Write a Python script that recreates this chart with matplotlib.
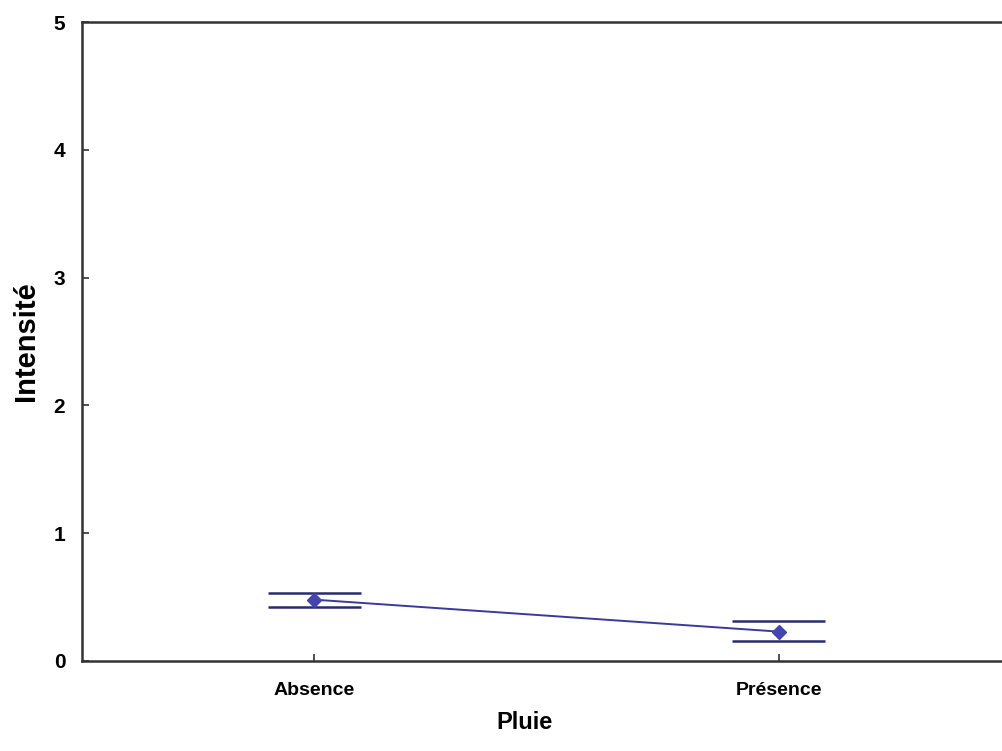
import matplotlib
matplotlib.use("Agg")
import matplotlib.pyplot as plt
import numpy as np

# data
categories = ["Absence", "Présence"]
means = [0.48, 0.23]
upper = [0.53, 0.31]
lower = [0.42, 0.155]

plt.rcParams['font.family'] = ['Liberation Sans', 'DejaVu Sans']

fig = plt.figure(figsize=(10.02, 7.51), dpi=100)
ax = fig.add_axes([82 / 1002, 90 / 751, 929 / 1002, 639 / 751])

x = np.arange(len(categories))
col = '#3a3a9c'

ax.plot(x, means, color=col, lw=1.4, zorder=2)
ax.plot(x, means, 'D', color='#4444b0', ms=7, zorder=3)
ax.hlines(upper, x - 0.1, x + 0.1, color='#2a2a70', lw=1.8, zorder=2)
ax.hlines(lower, x - 0.1, x + 0.1, color='#2a2a70', lw=1.8, zorder=2)

ax.set_xlim(-0.5, 1.5)
ax.set_ylim(0, 5)
ax.set_xticks(x)
ax.set_xticklabels(categories, fontsize=14, fontweight='bold')
ax.set_yticks(range(6))
ax.set_yticklabels([str(i) for i in range(6)], fontsize=15, fontweight='bold')
ax.tick_params(direction='in', length=5, width=1.2, color='#333333')
ax.tick_params(axis='x', pad=15)
ax.tick_params(axis='y', pad=12)

for s in ax.spines.values():
    s.set_linewidth(1.8)
    s.set_color('#333333')

ax.set_xlabel("Pluie", fontsize=17, fontweight='bold')
ax.xaxis.set_label_coords(0.476, -0.078)
ax.set_ylabel("Intensité", fontsize=21, fontweight='bold', labelpad=10)

fig.savefig("out.png", dpi=100)
